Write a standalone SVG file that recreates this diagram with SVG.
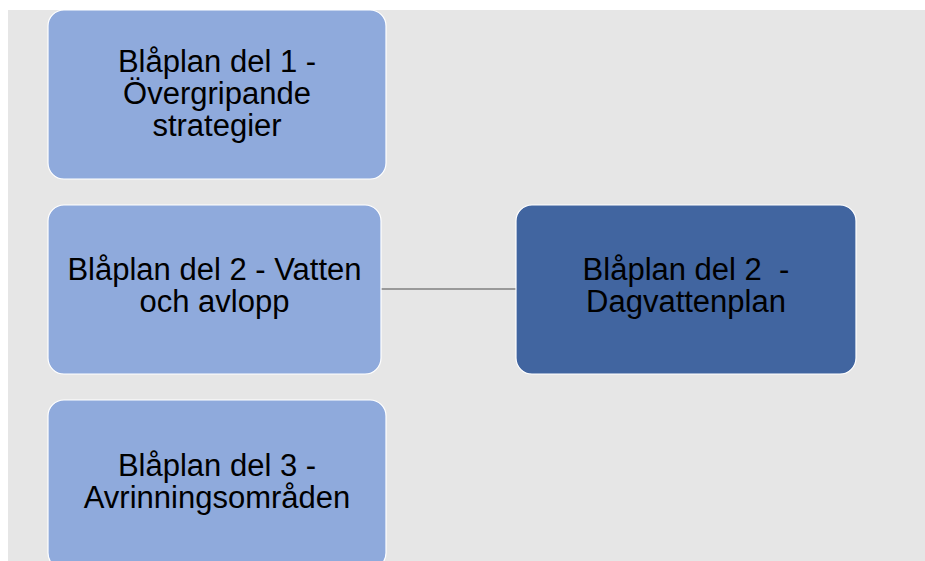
<svg xmlns="http://www.w3.org/2000/svg" width="925" height="561" viewBox="0 0 925 561">
<style>
.bg{fill:#ffffff}
.panel{fill:#e6e6e6}
.light{fill:#8faadc;stroke:#ffffff;stroke-width:1.2}
.dark{fill:#4165a0;stroke:#ffffff;stroke-width:1.2}
.t{font-family:"Liberation Sans",Arial,sans-serif;font-size:31px;fill:#000000;text-anchor:middle}
.conn{stroke:#7f7f7f;stroke-width:1.5;fill:none}
</style>
<rect class="bg" x="0" y="0" width="925" height="561"/>
<rect class="panel" x="8" y="10" width="917" height="551"/>
<g id="connectors">
<line class="conn" x1="381" y1="289" x2="516" y2="289"/>
</g>
<g id="node1">
<rect class="light" x="48" y="10" width="338" height="169" rx="16"/>
<text class="t" x="217" y="72"><tspan x="217" y="72">Blåplan del 1 -</tspan><tspan x="217" y="104">Övergripande</tspan><tspan x="217" y="136">strategier</tspan></text>
</g>
<g id="node2">
<rect class="light" x="48" y="205" width="333" height="169" rx="16"/>
<text class="t" x="214.5" y="280"><tspan x="214.5" y="280">Blåplan del 2 - Vatten</tspan><tspan x="214.5" y="312">och avlopp</tspan></text>
</g>
<g id="node3">
<rect class="light" x="48" y="400" width="338" height="169" rx="16"/>
<text class="t" x="217" y="476"><tspan x="217" y="476">Blåplan del 3 -</tspan><tspan x="217" y="508">Avrinningsområden</tspan></text>
</g>
<g id="node4">
<rect class="dark" x="516" y="205" width="340" height="169" rx="16"/>
<text class="t" x="686" y="280" xml:space="preserve"><tspan x="686" y="280">Blåplan del 2  -</tspan><tspan x="686" y="312">Dagvattenplan</tspan></text>
</g>
</svg>
